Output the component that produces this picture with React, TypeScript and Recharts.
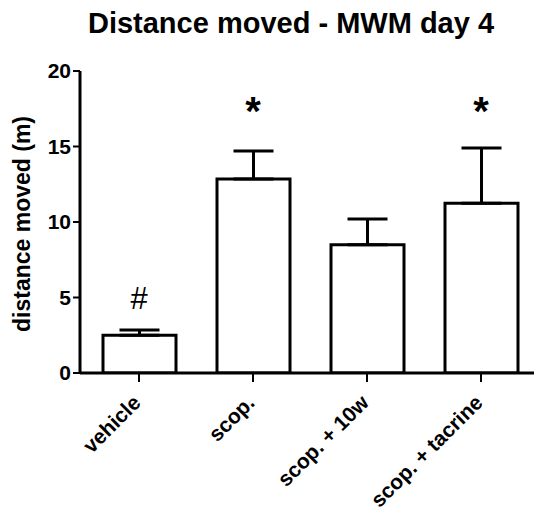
import React from "react";
import { BarChart, Bar, XAxis, YAxis, ErrorBar, ReferenceDot } from "recharts";

const groups = ["vehicle", "scop.", "scop. + 10w", "scop. + tacrine"];
const means = [2.5, 12.85, 8.5, 11.25];
const sem = [0.35, 1.85, 1.7, 3.65];
const marks = ["#", "*", "", "*"];
const markLevel = [5.0, 17.6, 0, 17.6];
const yTicks = [0, 5, 10, 15, 20];

const FONT = "'Liberation Sans', Arial, Helvetica, sans-serif";

const data = groups.map((g, i) => ({
  group: g,
  mean: means[i],
  err: [0, sem[i]],
}));

function GroupTick({ x, y, payload }: any) {
  return (
    <g transform={`translate(${x + 3},${y + 20})`}>
      <text
        transform="rotate(-45)"
        textAnchor="end"
        fontFamily={FONT}
        fontWeight="bold"
        fontSize={21}
        fill="#000"
      >
        {payload.value}
      </text>
    </g>
  );
}

function YTitle() {
  return (
    <text
      x={22}
      y={224}
      transform="rotate(-90, 22, 224)"
      textAnchor="middle"
      dominantBaseline="central"
      fontFamily={FONT}
      fontWeight="bold"
      fontSize={23}
      fill="#000"
    >
      distance moved (m)
    </text>
  );
}

export default function App() {
  return (
    <div
      style={{
        position: "absolute",
        left: 0,
        top: 0,
        width: 534,
        height: 515,
        overflow: "hidden",
        background: "#fff",
      }}
    >
      <div
        style={{
          position: "absolute",
          left: 0,
          top: 7,
          width: 582,
          textAlign: "center",
          fontFamily: FONT,
          fontWeight: "bold",
          fontSize: 29,
          color: "#000",
          whiteSpace: "nowrap",
        }}
      >
        Distance moved - MWM day 4
      </div>
      <BarChart
        width={540}
        height={515}
        data={data}
        margin={{ top: 71, right: 2, bottom: 42, left: 0 }}
        barSize={73}
      >
        <XAxis
          dataKey="group"
          height={100}
          padding={{ left: 2, right: 0 }}
          axisLine={{ stroke: "#000", strokeWidth: 3 }}
          tickLine={{ stroke: "#000", strokeWidth: 2 }}
          tickSize={9}
          tick={<GroupTick />}
          interval={0}
        />
        <YAxis
          width={80}
          domain={[0, 20]}
          ticks={yTicks}
          allowDataOverflow
          axisLine={{ stroke: "#000", strokeWidth: 3 }}
          tickLine={{ stroke: "#000", strokeWidth: 2 }}
          tickSize={7}
          tickMargin={2}
          tick={{ fill: "#000", fontFamily: FONT, fontWeight: "bold", fontSize: 21 }}
          label={<YTitle />}
        />
        <Bar dataKey="mean" fill="#fff" stroke="#000" strokeWidth={3} isAnimationActive={false}>
          <ErrorBar dataKey="err" width={20} stroke="#000" strokeWidth={3} direction="y" />
        </Bar>
        {groups.map((g, i) =>
          marks[i] ? (
            <ReferenceDot
              key={g}
              x={g}
              y={markLevel[i]}
              r={0}
              fill="none"
              stroke="none"
              label={{
                value: marks[i],
                position: "center",
                fill: "#000",
                fontFamily: FONT,
                fontSize: marks[i] === "#" ? 31 : 40,
                fontWeight: marks[i] === "#" ? "normal" : "bold",
                dy: marks[i] === "*" ? 4 : 0,
              }}
            />
          ) : null
        )}
      </BarChart>
    </div>
  );
}
